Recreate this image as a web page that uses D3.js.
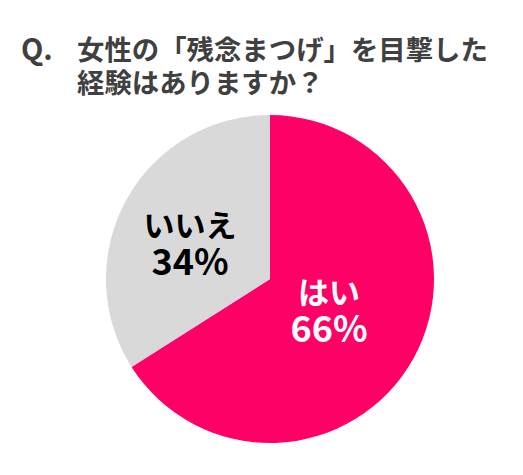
<!DOCTYPE html>
<html>
<head>
<meta charset="utf-8">
<script src="https://cdn.jsdelivr.net/npm/d3@7"></script>
<style>
  html, body { margin: 0; padding: 0; background: #fff; }
  svg { display: block; }
</style>
</head>
<body>
<div id="chart"></div>
<script>
// Data
const categories = ["はい", "いいえ"];
const values = [66, 34];
const colors = ["#FF0066", "#D9D9D9"];
const labelColors = ["#FFFFFF", "#000000"];
const titleLines = ["女性の「残念まつげ」を目撃した", "経験はありますか？"];

const width = 523;
const height = 475;
const radius = 164;
const cx = 270, cy = 279;
const font = "'Noto Sans CJK JP', 'Noto Sans', sans-serif";

const svg = d3.select("#chart")
    .append("svg")
    .attr("width", width)
    .attr("height", height);

// Title
svg.append("text")
    .attr("x", 21)
    .attr("y", 60)
    .attr("font-family", font)
    .attr("font-weight", "bold")
    .attr("font-size", 29)
    .attr("fill", "#404040")
    .text("Q.");

svg.selectAll(".title")
    .data(titleLines)
    .enter().append("text")
    .attr("class", "title")
    .attr("x", 77)
    .attr("y", (d, i) => 60 + i * 33)
    .attr("font-family", font)
    .attr("font-weight", "bold")
    .attr("font-size", 27.4)
    .attr("fill", "#404040")
    .text(d => d);

// Pie
const g = svg.append("g")
    .attr("transform", "translate(" + cx + "," + cy + ")");

const pie = d3.pie().sort(null);
const arc = d3.arc().innerRadius(0).outerRadius(radius);

const arcs = g.selectAll(".arc")
    .data(pie(values))
    .enter().append("g")
    .attr("class", "arc");

arcs.append("path")
    .attr("d", arc)
    .attr("fill", (d, i) => colors[i]);

// Labels
const labelPos = [[59, 25], [-80, -42]];

arcs.append("text")
    .attr("text-anchor", "middle")
    .attr("font-family", font)
    .attr("font-weight", "bold")
    .attr("font-size", 31)
    .attr("fill", (d, i) => labelColors[i])
    .attr("transform", (d, i) => "translate(" + labelPos[i] + ")")
    .text((d, i) => categories[i]);

arcs.append("text")
    .attr("text-anchor", "middle")
    .attr("font-family", font)
    .attr("font-weight", "bold")
    .attr("font-size", 36)
    .attr("fill", (d, i) => labelColors[i])
    .attr("transform", (d, i) => "translate(" + [labelPos[i][0], labelPos[i][1] + 38] + ")")
    .text(d => d.data + "%");
</script>
</body>
</html>
